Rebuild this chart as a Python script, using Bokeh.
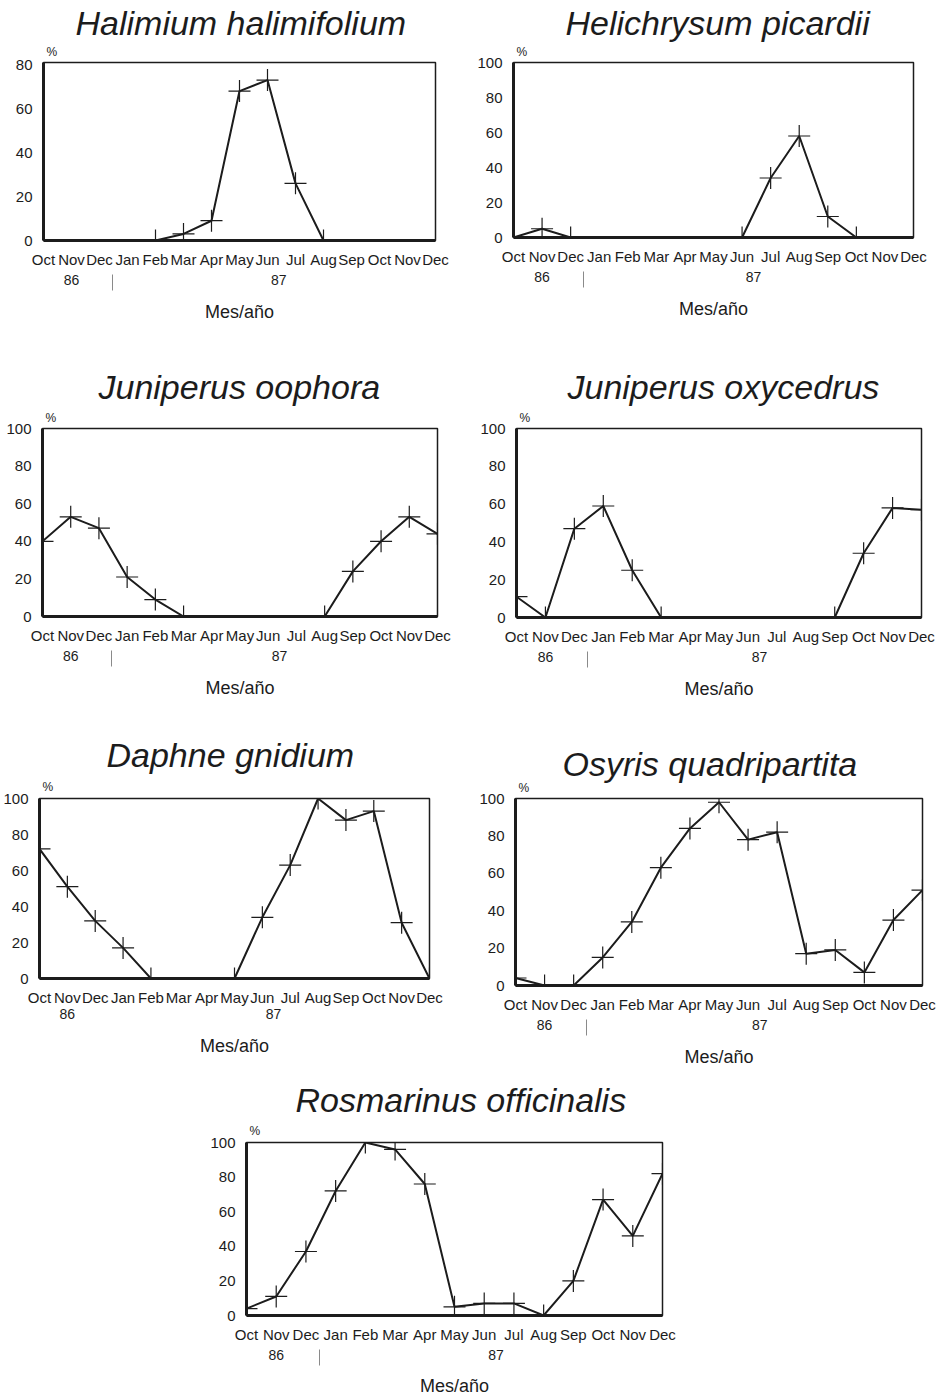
import numpy as np
from bokeh.plotting import figure
from bokeh.layouts import column, row
from bokeh.models import LinearAxis, FixedTicker, Range1d, Title
from bokeh.embed import file_html
from bokeh.resources import INLINE

nan = float("nan")

# ---------------- data ----------------
months = ["Oct", "Nov", "Dec", "Jan", "Feb", "Mar", "Apr", "May",
          "Jun", "Jul", "Aug", "Sep", "Oct", "Nov", "Dec"]
month_pos = list(range(15))
year_labels = ["86", "87"]
year_pos = [1, 8.4]
year_break = 2.45
x_title = "Mes/año"
y_unit = "%"

halimium = [nan, nan, nan, nan, 0, 3, 9, 68, 73, 26, 0, nan, nan, nan, nan]
helichrysum = [0, 5, 0, nan, nan, nan, nan, nan, 0, 34, 58, 12, 0, nan, nan]
juniperus_oophora = [40, 53, 47, 21, 9, 0, nan, nan, nan, nan, 0, 24, 40, 53, 44]
juniperus_oxycedrus = [11, 0, 47, 59, 25, 0, nan, nan, nan, nan, nan, 0, 34, 58, 57]
daphne = [72, 51, 32, 17, 0, nan, nan, 0, 34, 63, 100, 88, 93, 31, 0]
osyris = [4, 0, 0, 15, 34, 63, 84, 98, 78, 82, 17, 19, 7, 35, 51]
rosmarinus = [4, 11, 37, 72, 100, 96, 76, 5, 7, 7, 0, 20, 67, 46, 82]

ticks_80 = [0, 20, 40, 60, 80]
ticks_100 = [0, 20, 40, 60, 80, 100]

INK = "#1c1c1c"
FONT = "Liberation Sans"


def panel(title, vals, y_top, y_ticks, geom, t_left, t_stand, brk=True,
          ystand=11, xstand=10, lstand=14, pct_off=3, pct_stand=7):
    fl, ft, fw, fh, fr, fb = geom
    p = figure(frame_width=fw, frame_height=fh, title=None,
               x_range=Range1d(0, 14), y_range=Range1d(0, y_top),
               min_border_left=fl, min_border_right=fr,
               min_border_top=ft, min_border_bottom=fb,
               output_backend="svg", toolbar_location=None)
    p.xgrid.visible = False
    p.ygrid.visible = False
    p.background_fill_color = "white"
    p.border_fill_color = "white"
    p.outline_line_color = INK
    p.outline_line_width = 1.5
    p.outline_line_alpha = 1.0

    xa = p.xaxis[0]
    xa.ticker = FixedTicker(ticks=month_pos)
    xa.major_label_overrides = {i: m for i, m in zip(month_pos, months)}
    xa.major_label_text_font = FONT
    xa.major_label_text_font_size = "15px"
    xa.major_label_text_color = INK
    xa.major_label_standoff = xstand
    xa.major_tick_in = 0
    xa.major_tick_out = 0
    xa.minor_tick_in = 0
    xa.minor_tick_out = 0
    xa.axis_line_width = 3
    xa.axis_line_color = INK

    ya = p.yaxis[0]
    ya.ticker = FixedTicker(ticks=y_ticks)
    ya.major_label_text_font = FONT
    ya.major_label_text_font_size = "15px"
    ya.major_label_text_color = INK
    ya.major_label_standoff = ystand
    ya.major_tick_in = 0
    ya.major_tick_out = 0
    ya.minor_tick_in = 0
    ya.minor_tick_out = 0
    ya.axis_line_width = 3
    ya.axis_line_color = INK

    yr = LinearAxis(
        ticker=FixedTicker(ticks=year_pos, minor_ticks=[year_break] if brk else []),
        major_label_overrides={k: v for k, v in zip(year_pos, year_labels)},
        axis_line_color=None, major_tick_line_color=None,
        major_tick_in=0, major_tick_out=0,
        minor_tick_in=-20, minor_tick_out=4,
        minor_tick_line_color="#8a8a8a", minor_tick_line_width=1,
        major_label_standoff=0,
        major_label_text_font=FONT, major_label_text_font_size="14px",
        major_label_text_color=INK,
        axis_label=x_title, axis_label_standoff=lstand,
        axis_label_text_font=FONT, axis_label_text_font_size="18px",
        axis_label_text_font_style="normal", axis_label_text_color=INK,
    )
    p.add_layout(yr, "below")

    y = np.array(vals, dtype=float)
    x = np.array(month_pos, dtype=float)
    p.line(x, y, line_width=2, line_color=INK)
    p.scatter(x, y, marker="cross", size=22, line_color=INK, line_width=1.2)

    # "%" just above the frame, then the species name above it
    p.add_layout(Title(text=y_unit, align="left", offset=pct_off, standoff=pct_stand,
                       vertical_align="bottom",
                       text_font=FONT, text_font_size="12px",
                       text_font_style="normal", text_color=INK), "above")
    p.add_layout(Title(text=title, align="left", offset=t_left, standoff=t_stand,
                       vertical_align="top",
                       text_font=FONT, text_font_size="34px",
                       text_font_style="italic", text_color=INK), "above")
    return p


# geometry: (left border, top border, frame width, frame height, right border, bottom border)
p1 = panel("Halimium halimifolium", halimium, 81, ticks_80,
           (43, 61, 392, 178, 35, 96), 32, -9)
p2 = panel("Helichrysum picardii", helichrysum, 100, ticks_100,
           (43, 62, 400, 175, 27, 98), 52, -8)
p3 = panel("Juniperus oophora", juniperus_oophora, 100, ticks_100,
           (42, 92, 395, 188, 33, 90), 56, -5)
p4 = panel("Juniperus oxycedrus", juniperus_oxycedrus, 100, ticks_100,
           (46, 93, 405, 189, 19, 88), 51, -5)
p5 = panel("Daphne gnidium", daphne, 100, ticks_100,
           (39, 93, 390, 180, 41, 87), 67, -4, brk=False, pct_stand=9)
p6 = panel("Osyris quadripartita", osyris, 100, ticks_100,
           (45, 89, 407, 187, 18, 84), 47, -19)
p7 = panel("Rosmarinus officinalis", rosmarinus, 100, ticks_100,
           (246, 77, 416, 173, 278, 82), 49, -7, lstand=13, pct_stand=9)

layout = column(row(p1, p2), row(p3, p4), row(p5, p6), p7)

with open("out.html", "w") as f:
    f.write(file_html(layout, INLINE))
